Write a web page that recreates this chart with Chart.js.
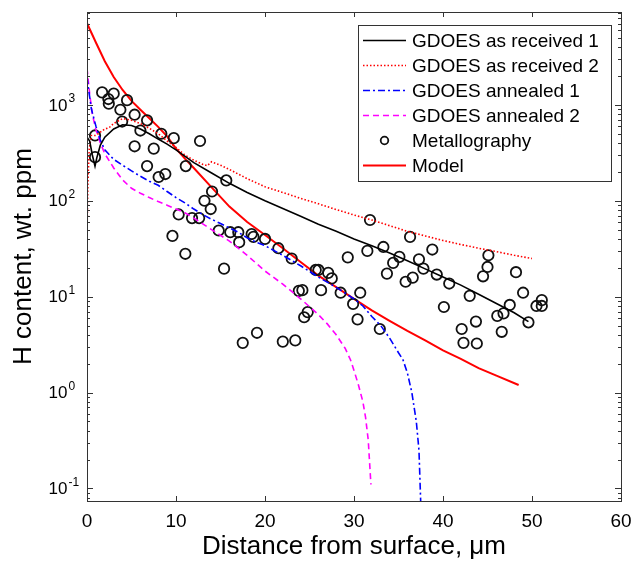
<!DOCTYPE html>
<html lang="en">
<head>
<meta charset="UTF-8">
<title>H content profile</title>
<script src="https://cdn.jsdelivr.net/npm/chart.js@4.4.0/dist/chart.umd.min.js"></script>
<style>
    body { margin: 0; background: #fff; }
    #wrap { position: relative; width: 631px; height: 564px; }
</style>
</head>
<body>
<div id="wrap"><canvas id="myChart"></canvas></div>

<script>
    // GDOES as received 1 (black solid)
    var rec1X = [0, 0.3, 0.6, 0.9, 1.1, 1.5, 2, 3, 4, 5, 6, 7, 8, 9, 10, 12, 14, 16, 18, 20, 22, 24, 26, 28, 30, 32, 34, 36, 38, 40, 42, 44, 46, 48, 49.6];
    var rec1Y = [460, 420, 300, 230, 280, 380, 460, 560, 620, 610, 560, 500, 440, 390, 340, 250, 195, 152, 122, 100, 83, 69, 57, 48, 40, 34, 28.5, 23.7, 19.5, 16, 13.2, 10.6, 8.5, 6.8, 5.5];

    // GDOES as received 2 (red dotted)
    var rec2X = [0, 0.1, 0.25, 0.5, 1, 1.5, 2, 2.5, 3, 4, 5, 6, 7, 8, 9, 10, 11, 12, 13, 13.5, 14, 15, 16, 18, 20, 22, 24, 26, 28, 30, 32, 34, 36, 38, 40, 42, 44, 46, 48, 50];
    var rec2Y = [45, 150, 350, 480, 480, 520, 560, 580, 640, 720, 690, 640, 570, 500, 420, 360, 300, 265, 240, 232, 255, 235, 212, 170, 140, 122, 106, 93, 81, 71, 63, 55, 48, 43, 38.5, 35, 32, 29.5, 27, 25];

    // GDOES annealed 1 (blue dash-dot)
    var ann1X = [0, 0.2, 0.5, 1, 1.5, 2, 3, 4, 5, 6, 7, 8, 9, 10, 11, 12, 13, 14, 15, 16, 17, 18, 19, 20, 22, 24, 26, 28, 30, 31, 32, 33, 34, 35, 35.5, 36, 36.5, 37, 37.3, 37.5];
    var ann1Y = [1950, 1400, 900, 600, 430, 340, 270, 235, 205, 180, 160, 145, 125, 108, 95, 82, 72, 64, 58, 52, 47, 41, 37, 34, 27, 21, 16, 12.5, 9.5, 8, 6.2, 5, 3.7, 2.6, 2.2, 1.6, 1.0, 0.5, 0.25, 0.07];

    // GDOES annealed 2 (magenta dashed)
    var ann2X = [0, 0.3, 0.6, 1, 1.5, 2, 3, 4, 5, 6, 7, 8, 9, 10, 11, 12, 14, 16, 18, 20, 22, 24, 26, 27, 28, 29, 29.6, 30, 30.5, 31, 31.3, 31.6, 31.9];
    var ann2Y = [2400, 1300, 800, 550, 400, 310, 220, 165, 135, 120, 108, 98, 90, 82, 75, 66, 50, 38, 27, 18.5, 13.5, 9.5, 6.5, 5.2, 4.0, 2.9, 2.2, 1.7, 1.2, 0.8, 0.55, 0.32, 0.11];

    // Model (red solid)
    var modelX = [0, 1, 2, 3, 4, 5, 6, 7, 8, 9, 10, 11, 12, 14, 16, 18, 20, 22, 24, 26, 28, 30, 32, 34, 36, 38, 40, 42, 44, 46, 48.5];
    var modelY = [7100, 4470, 2850, 1950, 1430, 1100, 890, 725, 590, 470, 350, 275, 220, 138, 87, 60, 44, 32, 23, 16.6, 12.6, 9.5, 7.2, 5.6, 4.4, 3.5, 2.75, 2.25, 1.8, 1.5, 1.2];

    // Metallography (circles)
    var metX = [0.9, 0.9, 1.7, 2.4, 2.45, 3.0, 3.75, 4.5, 3.95, 5.35, 6.75, 6.0, 8.35, 9.75, 12.7, 5.35, 7.5, 6.75, 8.05, 8.8,
                11.1, 15.65, 14.05, 13.2, 13.9, 10.3, 11.8, 12.6, 9.6, 11.05, 14.8, 16.1, 17.0, 17.1, 18.5, 18.7, 20.0, 21.5, 23.0, 15.4,
                23.8, 31.8, 36.3, 31.5, 33.3, 38.8, 29.3, 35.1, 37.3, 34.4, 37.8, 33.7, 39.3, 36.6, 35.8, 40.7, 45.1, 45.0, 44.5, 48.2,
                43.0, 49.0, 40.1, 47.5, 46.8, 46.1, 50.5, 51.1, 51.1, 49.6, 43.7, 42.1, 46.6, 42.3, 43.8, 30.7, 29.9, 30.4, 32.9, 28.5,
                26.3, 24.2, 27.5, 27.1, 26.0, 25.7, 24.8, 24.4, 19.1, 22.0, 23.4, 17.5];
    var metY = [480, 285, 1350, 1150, 1030, 1310, 890, 1120, 670, 790, 690, 540, 500, 450, 420, 370, 350, 230, 177, 190,
                230, 163, 125, 100, 82, 72, 66, 66, 43, 28, 49, 47, 47, 37, 45, 42, 40, 32, 25, 19.6,
                11.5, 63, 42, 30, 33, 31, 25.7, 26, 24.5, 22.5, 19.6, 17.4, 17, 15.8, 14.3, 13.7, 27, 20.4, 16.3, 18,
                10.2, 11, 7.8, 8.2, 6.7, 6.3, 8, 9.2, 8, 5.4, 5.5, 4.6, 4.3, 3.3, 3.25, 11, 8.4, 5.8, 4.6, 11,
                11.7, 11.7, 15.5, 17.7, 19, 19, 6.9, 6.1, 4.2, 3.4, 3.5, 3.3];

    var xTicks = [0, 10, 20, 30, 40, 50, 60];
    var yPowers = [-1, 0, 1, 2, 3];

    function pts(xs, ys) {
        var out = [];
        for (var i = 0; i < xs.length; i++) out.push({x: xs[i], y: ys[i]});
        return out;
    }

    var datasets = [
        {label: 'GDOES as received 1', data: pts(rec1X, rec1Y), borderColor: '#000000', borderWidth: 1.6, borderDash: []},
        {label: 'GDOES as received 2', data: pts(rec2X, rec2Y), borderColor: '#ff0000', borderWidth: 1.6, borderDash: [1.5, 2]},
        {label: 'GDOES annealed 1', data: pts(ann1X, ann1Y), borderColor: '#0000ff', borderWidth: 1.6, borderDash: [7, 3, 2, 3]},
        {label: 'GDOES annealed 2', data: pts(ann2X, ann2Y), borderColor: '#ff00ff', borderWidth: 1.6, borderDash: [6, 4]},
        {label: 'Metallography', data: pts(metX, metY), showLine: false, borderColor: '#111111', backgroundColor: 'rgba(0,0,0,0)',
            pointRadius: 5.2, pointBorderWidth: 1.8, pointHoverRadius: 5.2},
        {label: 'Model', data: pts(modelX, modelY), borderColor: '#ff0000', borderWidth: 2, borderDash: []}
    ];
    datasets.forEach(function (d) {
        d.fill = false;
        d.tension = 0;
        if (d.pointRadius === undefined) d.pointRadius = 0;
    });

    // frame, inside ticks, y labels with exponents, legend box
    var framePlugin = {
        id: 'frame',
        afterDraw: function (chart) {
            var ctx = chart.ctx, a = chart.chartArea, xs = chart.scales.x, ys = chart.scales.y;
            ctx.save();
            ctx.strokeStyle = '#333333';
            ctx.lineWidth = 1;
            ctx.strokeRect(Math.round(a.left) + 0.5, Math.round(a.top) + 0.5, Math.round(a.right - a.left), Math.round(a.bottom - a.top));
            ctx.beginPath();
            xTicks.forEach(function (v) {
                var px = Math.round(xs.getPixelForValue(v)) + 0.5;
                ctx.moveTo(px, a.bottom); ctx.lineTo(px, a.bottom - 5);
                ctx.moveTo(px, a.top); ctx.lineTo(px, a.top + 5);
            });
            for (var p = -2; p <= 4; p++) {
                for (var m = 1; m <= 9; m++) {
                    var v = m * Math.pow(10, p);
                    if (v < ys.min || v > ys.max) continue;
                    var py = Math.round(ys.getPixelForValue(v)) + 0.5;
                    var len = (m === 1) ? 6 : 3;
                    ctx.moveTo(a.left, py); ctx.lineTo(a.left + len, py);
                    ctx.moveTo(a.right, py); ctx.lineTo(a.right - len, py);
                }
            }
            ctx.stroke();

            // y tick labels 10^n
            ctx.fillStyle = '#000000';
            ctx.textBaseline = 'middle';
            yPowers.forEach(function (p) {
                var py = ys.getPixelForValue(Math.pow(10, p));
                ctx.font = '17px "Liberation Sans", Arial, sans-serif';
                ctx.textAlign = 'right';
                ctx.fillText('10', a.left - 19.5, py + 1);
                ctx.font = '12px "Liberation Sans", Arial, sans-serif';
                ctx.textAlign = 'left';
                ctx.fillText(String(p), a.left - 18.5, py - 6);
            });

            // legend
            var lx = 358, ly = 25, lw = 253, lh = 156;
            ctx.fillStyle = '#ffffff';
            ctx.fillRect(lx, ly, lw, lh);
            ctx.strokeStyle = '#333333';
            ctx.lineWidth = 1;
            ctx.strokeRect(lx + 0.5, ly + 0.5, lw, lh);
            ctx.font = '19px "Liberation Sans", Arial, sans-serif';
            ctx.textAlign = 'left';
            ctx.textBaseline = 'middle';
            chart.data.datasets.forEach(function (d, i) {
                var yy = ly + 15.5 + i * 25;
                ctx.save();
                if (d.showLine === false) {
                    ctx.strokeStyle = d.borderColor;
                    ctx.lineWidth = 1.8;
                    ctx.beginPath();
                    ctx.arc(384.5, yy, 3.8, 0, Math.PI * 2);
                    ctx.stroke();
                } else {
                    ctx.strokeStyle = d.borderColor;
                    ctx.lineWidth = d.borderWidth;
                    ctx.setLineDash(d.borderDash);
                    ctx.beginPath();
                    ctx.moveTo(363, yy); ctx.lineTo(406, yy);
                    ctx.stroke();
                }
                ctx.restore();
                ctx.fillStyle = '#000000';
                ctx.fillText(d.label, 412, yy + 1);
            });
            ctx.restore();
        }
    };

    var ctx = document.getElementById('myChart');
    var myChart = new Chart(ctx, {
        type: 'line',
        data: {datasets: datasets},
        options: {
            responsive: true,
            maintainAspectRatio: false,
            animation: false,
            events: [],
            layout: {padding: {top: 12, right: 10, left: 0, bottom: 0}},
            plugins: {
                legend: {display: false},
                tooltip: {enabled: false}
            },
            scales: {
                x: {
                    type: 'linear',
                    min: 0,
                    max: 60,
                    grid: {display: false},
                    border: {display: false},
                    ticks: {
                        stepSize: 10,
                        padding: 1,
                        color: '#000000',
                        font: {family: '"Liberation Sans", Arial, sans-serif', size: 19},
                        maxRotation: 0
                    },
                    title: {
                        display: true,
                        text: 'Distance from surface, \u03bcm',
                        color: '#000000',
                        font: {family: '"Liberation Sans", Arial, sans-serif', size: 26},
                        padding: {top: 0, bottom: 2}
                    },
                    afterFit: function (scale) {
                        scale.height = 63;
                        scale.paddingLeft = 0;
                        scale.paddingRight = 0;
                    }
                },
                y: {
                    type: 'logarithmic',
                    min: 0.074,
                    max: 9300,
                    grid: {display: false},
                    border: {display: false},
                    ticks: {display: false},
                    title: {
                        display: true,
                        text: 'H content, wt. ppm',
                        color: '#000000',
                        font: {family: '"Liberation Sans", Arial, sans-serif', size: 26},
                        padding: {top: 8, bottom: 0}
                    },
                    afterFit: function (scale) {
                        scale.width = 87;
                        scale.paddingTop = 0;
                        scale.paddingBottom = 0;
                    }
                }
            }
        },
        plugins: [framePlugin]
    });
</script>
</body>
</html>
